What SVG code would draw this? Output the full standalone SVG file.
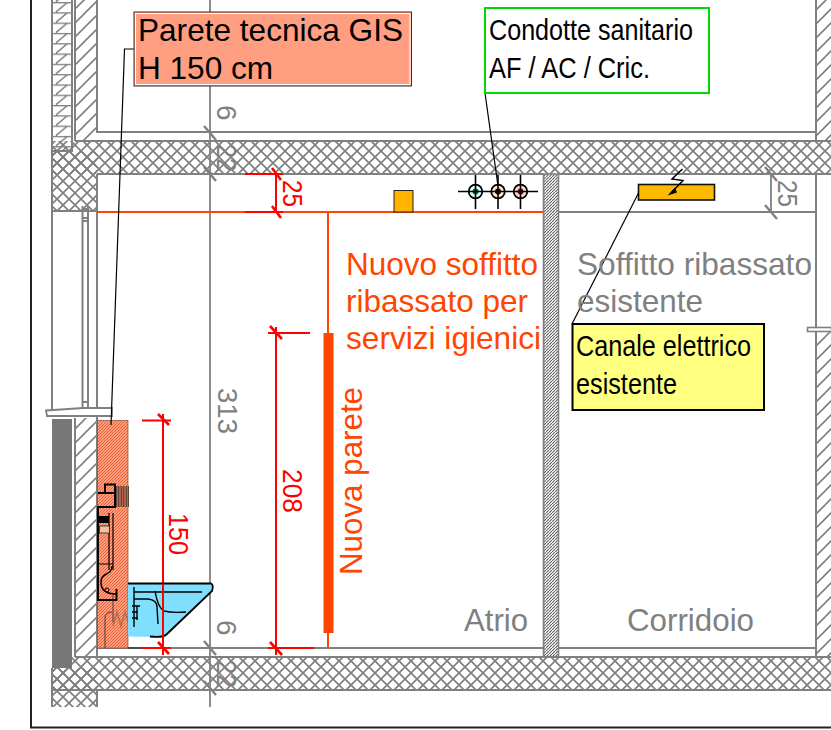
<svg xmlns="http://www.w3.org/2000/svg" width="831" height="730" viewBox="0 0 831 730">
<style>
text{font-family:"Liberation Sans",Arial,sans-serif}
.w{fill:none;stroke:#808080;stroke-width:2}
.g{fill:#808080}
.o{fill:#FF4500}
.r{fill:#FF0000}
.k{fill:#000}
.t30{font-size:31.500px}
.dim{font-size:28px}
.rl{fill:none;stroke:#FF0000;stroke-width:2}
.gl{fill:none;stroke:#808080;stroke-width:1.800}
.bl{fill:none;stroke:#000;stroke-width:1.200}
.b2{fill:none;stroke:#000;stroke-width:1.900}
</style>
<defs>
<pattern id="cross" width="12" height="12" patternUnits="userSpaceOnUse" patternTransform="translate(3 1)">
<path d="M-1 -1L13 13M-1 13L13 -1" stroke="#808080" stroke-width="1.700" fill="none"/>
</pattern>
<pattern id="diag" width="14" height="14" patternUnits="userSpaceOnUse">
<path d="M-2 16L16 -2M-9 9L9 -9M5 23L23 5" stroke="#808080" stroke-width="1.600" fill="none"/>
</pattern>
<pattern id="brick" width="20" height="10.3" patternUnits="userSpaceOnUse" patternTransform="translate(52 2)">
<path d="M0 0H20" stroke="#808080" stroke-width="2.600"/>
<path d="M4 10L16 0" stroke="#808080" stroke-width="1.500"/>
</pattern>
<pattern id="fine" width="3" height="3" patternUnits="userSpaceOnUse">
<path d="M-1 4L4 -1" stroke="#666" stroke-width="1.200"/>
</pattern>
<pattern id="sal" width="3" height="3" patternUnits="userSpaceOnUse">
<rect width="3" height="3" fill="#FF9E80"/>
<path d="M-1 4L4 -1" stroke="#E8501E" stroke-width=".8"/>
</pattern>
<pattern id="dark" width="2.500" height="2.500" patternUnits="userSpaceOnUse">
<rect width="2.500" height="2.500" fill="#B8684C"/>
<path d="M1.200 0V2.500" stroke="#333" stroke-width=".8"/>
</pattern>
</defs>
<rect width="831" height="730" fill="#fff"/>

<g id="frame"><path d="M31 0V727.500H831" fill="none" stroke="#222" stroke-width="2"/></g>

<g id="walls">
<rect x="52" y="141" width="779" height="33" fill="url(#cross)"/>
<rect x="52" y="151" width="45" height="60" fill="url(#cross)"/>
<rect x="52" y="657" width="779" height="33" fill="url(#cross)"/>
<rect x="52" y="668" width="45" height="39" fill="url(#cross)"/>
<path class="w" d="M75 141H831M97 174H543M558 174H831M75 657H831M52 690H831"/>
<path class="w" d="M52 0V211M52 211H97M97 174V211M52 668V707M97 690V707"/>
<rect x="52" y="0" width="20" height="151" fill="url(#brick)"/>
<path class="w" d="M52 0V151H72V0"/>
<rect x="75" y="0" width="22" height="141" fill="url(#diag)"/>
<path class="w" d="M75 0V141M97 0V132H816M816 0V141"/>
<rect x="816" y="0" width="15" height="141" fill="url(#diag)"/>
<rect x="816" y="332" width="15" height="325" fill="url(#diag)"/>
<path class="w" d="M816 174V657"/>
<rect x="807.500" y="327.500" width="24" height="4" fill="#fff" stroke="#808080" stroke-width="1.600"/>
<rect x="543.500" y="174" width="15" height="483" fill="url(#fine)"/>
<rect x="543.500" y="174" width="15" height="483" fill="none" stroke="#808080" stroke-width="1.600"/>
<path class="w" d="M97 648H543M558 648H816M558 212H816"/>
<path class="w" d="M52 211V410M82.500 206V410M88 206V410M97 211V411"/>
<path class="w" d="M82 209H88M82 218H88M82 221H88M82 402H88M82 408H88"/>
<path d="M46 410.500L83 408H112V416H47Z" fill="#fff" stroke="#808080" stroke-width="1.800"/>
<rect x="52" y="419" width="20" height="249" fill="#777"/>
<rect x="75" y="418" width="22" height="239" fill="url(#diag)"/>
<path class="w" d="M75 418V657M97 415V657"/>
</g>

<g id="dim-grey">
<path class="gl" d="M210 0V707"/>
<path class="gl" style="stroke-width:2.400" d="M204 126L216 140M204 167L216 181M204 641L216 655M204 681L216 695"/>
<path class="gl" d="M771 174V212"/>
<path class="gl" style="stroke-width:2.400" d="M765 167L777 181M765 205L777 219"/>
<g class="g dim">
<text transform="translate(217 105) rotate(90)">6</text>
<text transform="translate(217 144) rotate(90)" textLength="28" lengthAdjust="spacingAndGlyphs">22</text>
<text transform="translate(218 388) rotate(90)" textLength="46" lengthAdjust="spacingAndGlyphs">313</text>
<text transform="translate(217 620) rotate(90)">6</text>
<text transform="translate(217 660) rotate(90)" textLength="28" lengthAdjust="spacingAndGlyphs">22</text>
<text transform="translate(778 180) rotate(90)" textLength="27" lengthAdjust="spacingAndGlyphs">25</text>
</g>
</g>

<g id="nuovo-soffitto">
<path d="M97 212H543" stroke="#FF4500" stroke-width="2" fill="none"/>
<path d="M328 212V648" stroke="#FF4500" stroke-width="2" fill="none"/>
<rect x="323.500" y="333" width="10" height="300" class="o"/>
<rect x="394" y="190.500" width="19" height="21.500" fill="#FFB400" stroke="#222" stroke-width="1"/>
<g class="o t30">
<text x="346" y="275" textLength="192" lengthAdjust="spacingAndGlyphs">Nuovo soffitto</text>
<text x="346" y="312" textLength="182" lengthAdjust="spacingAndGlyphs">ribassato per</text>
<text x="346" y="349" textLength="195" lengthAdjust="spacingAndGlyphs">servizi igienici</text>
<text transform="translate(362 575) rotate(-90)" textLength="188" lengthAdjust="spacingAndGlyphs">Nuova parete</text>
</g>
</g>

<g id="dim-red">
<path class="rl" d="M245 174H283M245 212H283M276 174V212"/>
<path class="rl" style="stroke-width:2.600" d="M272 168L281 180M272 206L281 218"/>
<path class="rl" d="M268 333H310M276 327V655M268 648H314"/>
<path class="rl" style="stroke-width:2.600" d="M270 326L282 339M270 642L282 655"/>
<path class="rl" d="M142 420.500H171M142 648H171M163 414V655"/>
<path class="rl" style="stroke-width:2.600" d="M158 414L169 425M158 642L169 654"/>
<g class="r dim">
<text transform="translate(283 180) rotate(90)" textLength="27" lengthAdjust="spacingAndGlyphs">25</text>
<text transform="translate(283 469) rotate(90)" textLength="44" lengthAdjust="spacingAndGlyphs">208</text>
<text transform="translate(169 513) rotate(90)" textLength="42" lengthAdjust="spacingAndGlyphs">150</text>
</g>
</g>

<g id="parete-tecnica">
<rect x="97.500" y="420.500" width="30.500" height="227.500" fill="url(#sal)" stroke="#8a4a30" stroke-width=".7"/>
<rect x="115" y="486" width="14" height="21" fill="url(#dark)"/>
<path class="b2" d="M105 493V484.500H115V507H98V600H116.500V589M98 493H115"/>
<path class="bl" d="M109 513V570M113 513V570M98 564H113"/>
<rect x="98" y="516" width="11" height="7" class="k"/>
<rect x="99.500" y="526" width="10" height="7" fill="#F0C0A0" stroke="#222" stroke-width=".8"/>
<path d="M112 566C112 576 101 572 101 582C101 591 108 594 116 594" fill="none" stroke="#000" stroke-width="1.500"/>
<circle cx="107" cy="590" r="2" fill="none" stroke="#000" stroke-width="1"/>
<path d="M113 595V622M105 648V618Q105 612 112 612" fill="none" stroke="#333" stroke-width=".9"/>
<path d="M113 626L117 612L121 626L125 612L128 622" fill="none" stroke="#B07050" stroke-width="1.600"/>
</g>

<g id="wc">
<path d="M128 584H212Q214 586 212 591L167 634Q164 637 158 637L128 636.500Z" fill="#80DFFF"/>
<path d="M128 648H142" stroke="#333" stroke-width="1.400"/>
<path d="M128 583.500H211Q214 585 212 591L167 634Q163 638 150 636.500" fill="none" stroke="#000" stroke-width="1.800"/>
<path d="M134 592H202M155 591Q158 608 164 611Q172 613 186 612M134 599H148Q157 600 157 607L158 624M134 587V627M132 606H140M132 612H138M132 618H138M137 606V620" fill="none" stroke="#000" stroke-width="1.400"/>
<path class="rl" d="M163 584V637"/>
</g>

<g id="condotte">
<circle cx="475.500" cy="191.500" r="6.800" fill="#dff" stroke="#000" stroke-width="1.800"/>
<circle cx="498" cy="191.500" r="6.800" fill="#FFE8D0" stroke="#000" stroke-width="1.800"/>
<circle cx="520.500" cy="191.500" r="6.800" fill="#FFD8D8" stroke="#000" stroke-width="1.800"/>
<circle cx="475.500" cy="191.500" r="3" fill="#063"/>
<circle cx="498" cy="191.500" r="3" fill="#100"/>
<circle cx="520.500" cy="191.500" r="3" fill="#511"/>
<path d="M458 191.500H538M475.500 175V209M498 175V209M520.500 175V209" fill="none" stroke="#000" stroke-width="1.600"/>
</g>

<g id="canale">
<rect x="638.500" y="184.500" width="76" height="15.500" fill="#FFB900" stroke="#111" stroke-width="1.600"/>
<path d="M682.500 169L672 179L683 180.500L671 193" fill="none" stroke="#000" stroke-width="1.500"/>
<path d="M667.500 195.500L675 187.500L677 192.500Z" class="k"/>
</g>

<g id="connectors">
<path class="bl" d="M134 49H124.500L111 425"/>
<path class="bl" d="M485 93L498 186"/>
<path class="bl" d="M638.500 193L572 324"/>
</g>

<g id="label-parete">
<rect x="134" y="12" width="277.500" height="74" fill="#FF9E80" stroke="#333" stroke-width="1"/>
<rect x="135.500" y="13.500" width="274.500" height="71" fill="none" stroke="#fff" stroke-width="1"/>
<text x="138" y="41" font-size="32" textLength="265" lengthAdjust="spacingAndGlyphs">Parete tecnica GIS</text>
<text x="138" y="79" font-size="32" textLength="135" lengthAdjust="spacingAndGlyphs">H 150 cm</text>
</g>
<g id="label-condotte">
<rect x="485" y="8" width="224" height="85" fill="#fff" stroke="#00D800" stroke-width="2"/>
<text x="489" y="40" font-size="30" textLength="204" lengthAdjust="spacingAndGlyphs">Condotte sanitario</text>
<text x="489" y="78" font-size="30" textLength="161" lengthAdjust="spacingAndGlyphs">AF / AC / Cric.</text>
</g>
<g id="label-soffitto">
<text class="g t30" x="577" y="275" textLength="235" lengthAdjust="spacingAndGlyphs">Soffitto ribassato</text>
<text class="g t30" x="577" y="312" textLength="126" lengthAdjust="spacingAndGlyphs">esistente</text>
</g>
<g id="label-canale">
<rect x="572.500" y="324" width="191.500" height="86" fill="#FFFF80" stroke="#000" stroke-width="2"/>
<text x="576" y="356" font-size="30" textLength="175" lengthAdjust="spacingAndGlyphs">Canale elettrico</text>
<text x="576" y="394" font-size="30" textLength="101" lengthAdjust="spacingAndGlyphs">esistente</text>
</g>
<g id="label-atrio"><text class="g t30" x="464" y="631" textLength="64" lengthAdjust="spacingAndGlyphs">Atrio</text></g>
<g id="label-corridoio"><text class="g t30" x="627" y="631" textLength="127" lengthAdjust="spacingAndGlyphs">Corridoio</text></g>
</svg>
